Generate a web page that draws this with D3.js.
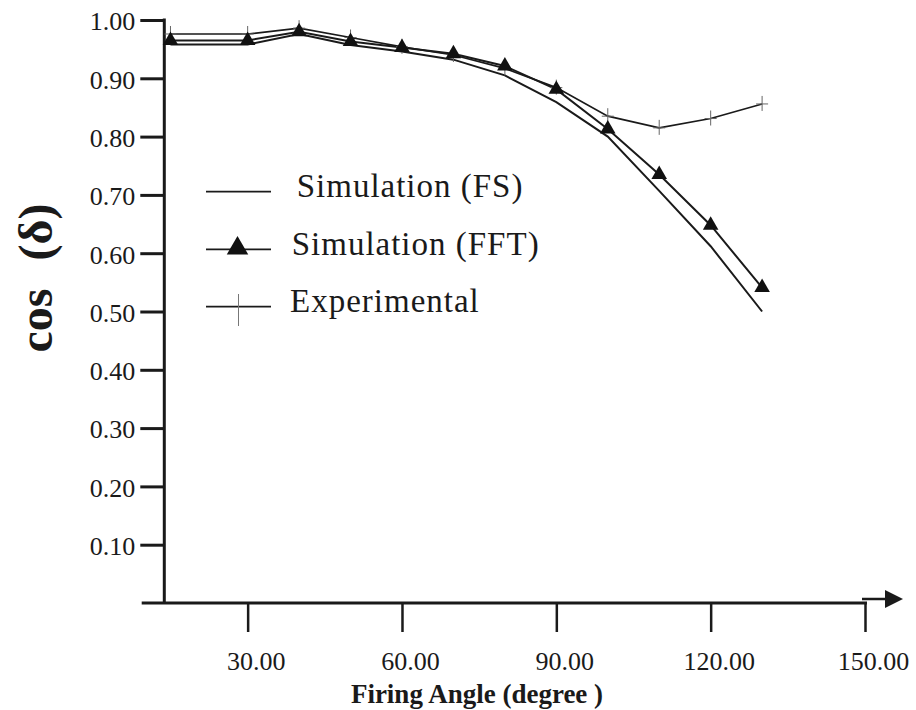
<!DOCTYPE html>
<html>
<head>
<meta charset="utf-8">
<script src="https://cdn.jsdelivr.net/npm/d3@7/dist/d3.min.js"></script>
<style>
  body { margin: 0; background: #fff; }
  svg text { font-family: "Liberation Serif", "Times New Roman", serif; fill: #1a1a1a; }
</style>
</head>
<body>
<div id="chart"></div>
<script>
// firing angle (degree) and the three power factor series
var angles = [15, 30, 40, 50, 60, 70, 80, 90, 100, 110, 120, 130];
var simFS  = [0.958, 0.958, 0.976, 0.957, 0.946, 0.932, 0.905, 0.859, 0.800, 0.707, 0.612, 0.500];
var simFFT = [0.965, 0.965, 0.980, 0.963, 0.953, 0.942, 0.921, 0.881, 0.813, 0.735, 0.648, 0.541];
var expt   = [0.976, 0.976, 0.986, 0.970, 0.954, 0.940, 0.917, 0.884, 0.835, 0.815, 0.831, 0.856];

var xTicks = [30, 60, 90, 120, 150];
var yTicks = [0.1, 0.2, 0.3, 0.4, 0.5, 0.6, 0.7, 0.8, 0.9, 1.0];
var legendNames = ["Simulation (FS)", "Simulation (FFT)", "Experimental"];

var width = 916, height = 710;

var svg = d3.select("#chart").append("svg")
    .attr("width", width)
    .attr("height", height);

var x = d3.scaleLinear().domain([13.8, 150]).range([164.3, 865]);
var y = d3.scaleLinear().domain([0, 1]).range([603, 20]);

var ink = "#1a1a1a";

// y axis
var yAxis = d3.axisLeft(y)
    .tickValues(yTicks)
    .tickSize(24)
    .tickPadding(5)
    .tickFormat(d3.format(".2f"));

var gy = svg.append("g")
    .attr("transform", "translate(" + x(13.8) + ",0)")
    .call(yAxis);
gy.select(".domain").remove();
gy.selectAll("line").attr("stroke", ink).attr("stroke-width", 3);
gy.selectAll("text")
    .style("font-size", "26px")
    .attr("dy", "0.38em");

svg.append("line")
    .attr("x1", x(13.8)).attr("x2", x(13.8))
    .attr("y1", y(1) - 1.5).attr("y2", y(0))
    .attr("stroke", ink).attr("stroke-width", 3);

// x axis
var xAxis = d3.axisBottom(x)
    .tickValues(xTicks)
    .tickSize(29)
    .tickFormat(d3.format(".2f"));

var gx = svg.append("g")
    .attr("transform", "translate(0," + y(0) + ")")
    .call(xAxis);
gx.select(".domain").remove();
gx.selectAll("line").attr("stroke", ink).attr("stroke-width", 2.5);
gx.selectAll("text")
    .style("font-size", "26px")
    .attr("y", 67)
    .attr("dy", 0)
    .attr("dx", 8);

svg.append("line")
    .attr("x1", 141.7).attr("x2", x(150) + 2)
    .attr("y1", y(0)).attr("y2", y(0))
    .attr("stroke", ink).attr("stroke-width", 3);
svg.append("line")
    .attr("x1", x(150) - 3).attr("x2", 888)
    .attr("y1", y(0) - 4).attr("y2", y(0) - 4)
    .attr("stroke", ink).attr("stroke-width", 2.5);
svg.append("path")
    .attr("d", "M885,590 L903,599 L885,608 Z")
    .attr("fill", ink);

// axis titles
svg.append("text")
    .attr("x", 477).attr("y", 703)
    .attr("text-anchor", "middle")
    .style("font-size", "27px")
    .style("font-weight", "bold")
    .text("Firing Angle (degree )");

var ylab = svg.append("text")
    .attr("transform", "translate(52,278) rotate(-90)")
    .attr("text-anchor", "middle")
    .style("font-size", "48px")
    .style("font-weight", "bold");
ylab.append("tspan").text("cos");
ylab.append("tspan").attr("dx", 16).text(" (δ)");

// series
var line = d3.line()
    .x(function(d) { return x(d[0]); })
    .y(function(d) { return y(d[1]); });

function pairs(vals) {
    return angles.map(function(a, i) { return [a, vals[i]]; });
}

svg.append("path")
    .datum(pairs(expt))
    .attr("d", line)
    .attr("fill", "none")
    .attr("stroke", ink)
    .attr("stroke-width", 1.7);

svg.append("path")
    .datum(pairs(simFS))
    .attr("d", line)
    .attr("fill", "none")
    .attr("stroke", ink)
    .attr("stroke-width", 2);

svg.append("path")
    .datum(pairs(simFFT))
    .attr("d", line)
    .attr("fill", "none")
    .attr("stroke", ink)
    .attr("stroke-width", 2);

// experimental "+" marks
svg.selectAll(".plus")
    .data(pairs(expt))
  .enter().append("path")
    .attr("class", "plus")
    .attr("d", function(d) {
        var cx = x(d[0]), cy = y(d[1]);
        return "M" + (cx - 6) + "," + cy + "H" + (cx + 6) +
               "M" + cx + "," + (cy - 8) + "V" + (cy + 7);
    })
    .attr("stroke", "#666")
    .attr("stroke-width", 1);

// FFT triangles
var tri = d3.symbol().type(d3.symbolTriangle).size(105);
svg.selectAll(".tri")
    .data(pairs(simFFT))
  .enter().append("path")
    .attr("class", "tri")
    .attr("d", tri)
    .attr("transform", function(d) { return "translate(" + x(d[0]) + "," + y(d[1]) + ")"; })
    .attr("fill", "#111");

// legend
var legY = [191.7, 249.3, 306.7];
var legTextX = [296.7, 291.7, 290];
var legBase = [197.3, 255, 311.7];

var leg = svg.append("g");
leg.selectAll(".legline")
    .data(legendNames)
  .enter().append("line")
    .attr("x1", 206).attr("x2", 271)
    .attr("y1", function(d, i) { return legY[i]; })
    .attr("y2", function(d, i) { return legY[i]; })
    .attr("stroke", ink)
    .attr("stroke-width", 1.8);

leg.append("path")
    .attr("d", d3.symbol().type(d3.symbolTriangle).size(200))
    .attr("transform", "translate(237.5," + (legY[1] - 1) + ")")
    .attr("fill", "#111");

leg.append("line")
    .attr("x1", 238.5).attr("x2", 238.5)
    .attr("y1", 294).attr("y2", 326)
    .attr("stroke", "#777")
    .attr("stroke-width", 1);

leg.selectAll(".legtext")
    .data(legendNames)
  .enter().append("text")
    .attr("x", function(d, i) { return legTextX[i]; })
    .attr("y", function(d, i) { return legBase[i]; })
    .style("font-size", "33px")
    .style("letter-spacing", "1px")
    .text(function(d) { return d; });
</script>
</body>
</html>
